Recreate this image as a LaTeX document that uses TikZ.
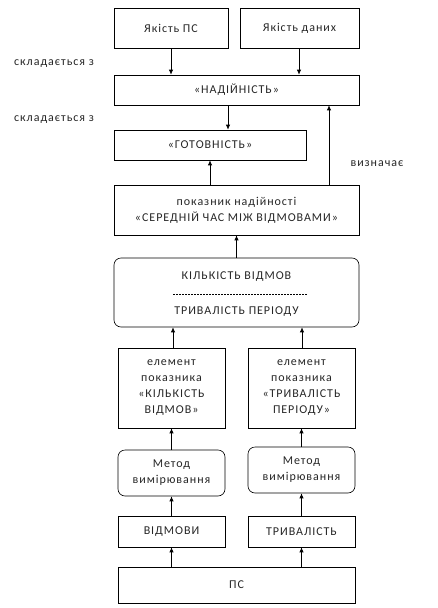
\documentclass[tikz,border=0pt]{standalone}
\usepackage{fontspec}
\setmainfont{Carlito}[LetterSpace=8]
\usetikzlibrary{arrows.meta}

\begin{document}
\begin{tikzpicture}[x=1pt,y=-1pt,
    box/.style={draw, line width=0.6pt, align=center, inner sep=1pt, text=black!85, font=\fontsize{12}{16}\selectfont},
    rbox/.style={box, rounded corners=7pt},
    link/.style={-{Latex[length=5pt,width=4.5pt]}, line width=0.8pt},
    note/.style={text=black!85, font=\fontsize{12}{14}\selectfont}]

    \useasboundingbox (0,0) rectangle (437,608);

    % Define the boxes of the scheme
    \node[box, minimum width=114pt, minimum height=40pt] (qps) at (171,28) {Якість ПС};
    \node[box, minimum width=119pt, minimum height=40pt] (qdata) at (299.5,28) {Якість даних};
    \node[box, minimum width=245pt, minimum height=30pt] (nad) at (236.5,90) {«НАДІЙНІСТЬ»};
    \node[box, minimum width=192pt, minimum height=30pt] (got) at (210,145) {«ГОТОВНІСТЬ»};
    \node[box, minimum width=245pt, minimum height=50pt] (pok) at (236.5,210) {показник надійності\\«СЕРЕДНІЙ ЧАС МІЖ ВІДМОВАМИ»};
    \node[rbox, minimum width=245pt, minimum height=69pt] (ratio) at (236.5,292.5) {};
    \node[box, minimum width=107pt, minimum height=80pt] (elK) at (171.5,388) {елемент\\показника\\«КІЛЬКІСТЬ\\ВІДМОВ»};
    \node[box, minimum width=107pt, minimum height=80pt] (elT) at (301.5,388) {елемент\\показника\\«ТРИВАЛІСТЬ\\ПЕРІОДУ»};
    \node[rbox, minimum width=107pt, minimum height=46pt] (metK) at (171.5,473) {Метод\\вимірювання};
    \node[rbox, minimum width=107pt, minimum height=46pt] (metT) at (301.5,470) {Метод\\вимірювання};
    \node[box, minimum width=107pt, minimum height=31pt] (vidm) at (171.5,531.5) {ВІДМОВИ};
    \node[box, minimum width=107pt, minimum height=31pt] (tryv) at (301.5,531.5) {ТРИВАЛІСТЬ};
    \node[box, minimum width=237pt, minimum height=36pt] (ps) at (236.5,585) {ПС};

    % Inside of the rounded box
    \node[box, draw=none] (cnt) at (236.5,277) {КІЛЬКІСТЬ ВІДМОВ};
    \node[box, draw=none] (per) at (236.5,312) {ТРИВАЛІСТЬ ПЕРІОДУ};
    \draw[dash pattern=on 2pt off 1pt, line width=0.5pt] (173,294) -- (307,294);

    % Columns for the side arrows
    \coordinate (c1) at (228,0);
    \coordinate (c2) at (329,0);

    % Draw the arrows
    \draw[link] (qps) -- (qps |- nad.north);
    \draw[link] (qdata.south -| 299,0) -- (nad.north -| 299,0);
    \draw[link] (nad.south -| c1) -- (got.north -| c1);
    \draw[link] (pok.north -| got) -- (got.south);
    \draw[link] (pok.north -| c2) -- (nad.south -| c2);
    \draw[link] (ratio) -- (pok);
    \draw[link] (elK.north -| 173,0) -- (ratio.south -| 173,0);
    \draw[link] (elT.north -| 302,0) -- (ratio.south -| 302,0);
    \draw[link] (metK) -- (elK);
    \draw[link] (metT) -- (elT);
    \draw[link] (vidm) -- (metK);
    \draw[link] (tryv) -- (metT);
    \draw[link] (ps.north -| vidm) -- (vidm);
    \draw[link] (ps.north -| tryv) -- (tryv);

    % Labels of the relations
    \node[note] (l1) at (54,64) {складається з};
    \node[note] (l2) at (54,120) {складається з};
    \node[note] (l3) at (377,164) {визначає};

\end{tikzpicture}
\end{document}
